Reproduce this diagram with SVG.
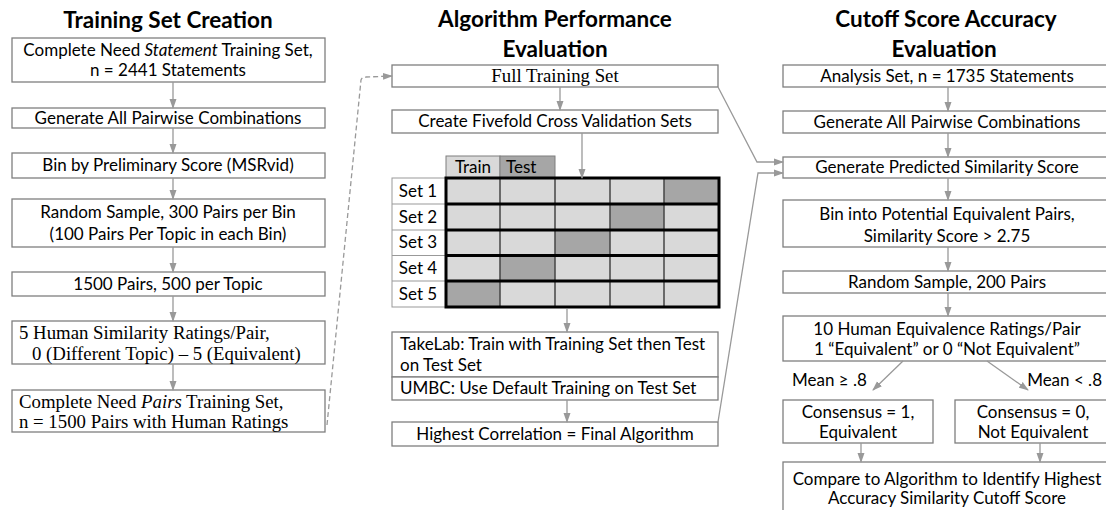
<svg xmlns="http://www.w3.org/2000/svg" width="1106" height="510" viewBox="0 0 1106 510">
<style>
.bg{fill:#fff}
.box{fill:#fff;stroke:#7f7f7f;stroke-width:1.3}
.t{font-family:Lato,"Liberation Sans",sans-serif;font-size:17px;fill:#000}
.s{font-family:"Liberation Serif","DejaVu Serif",serif;font-size:18.8px;fill:#000}
.h{font-family:Lato,"Liberation Sans",sans-serif;font-size:22.5px;font-weight:bold;fill:#000;text-anchor:middle}
.c{text-anchor:middle}
.ar{fill:none;stroke:#999;stroke-width:1.3;marker-end:url(#ah)}
.dash{fill:none;stroke:#999;stroke-width:1.3;stroke-dasharray:5,3;marker-end:url(#ah)}
.lt{fill:#d9d9d9}
.dk{fill:#a6a6a6}
.lbl{fill:#fff;stroke:#999;stroke-width:1}
</style>
<defs>
<marker id="ah" markerWidth="10" markerHeight="8" refX="9" refY="4" orient="auto" markerUnits="userSpaceOnUse">
<path d="M0,0.5 L10,4 L0,7.5 z" fill="#999"/>
</marker>
</defs>
<rect class="bg" x="0" y="0" width="1106" height="510"/>

<!-- Titles -->
<g id="titles">
<text class="h" x="168" y="28">Training Set Creation</text>
<text class="h" x="555" y="27">Algorithm Performance</text>
<text class="h" x="555" y="57">Evaluation</text>
<text class="h" x="946" y="27">Cutoff Score Accuracy</text>
<text class="h" x="944" y="57">Evaluation</text>
</g>

<!-- Left column -->
<g id="l1"><rect class="box" x="12" y="38" width="313" height="44"/>
<text class="t c" x="168" y="56">Complete Need <tspan font-style="italic">Statement</tspan> Training Set,</text>
<text class="t c" x="168" y="76">n = 2441 Statements</text></g>
<g id="l2"><rect class="box" x="12" y="108" width="313" height="20"/>
<text class="t c" x="168" y="124">Generate All Pairwise Combinations</text></g>
<g id="l3"><rect class="box" x="12" y="153" width="313" height="25"/>
<text class="t c" x="168" y="171">Bin by Preliminary Score (MSRvid)</text></g>
<g id="l4"><rect class="box" x="12" y="199" width="313" height="48"/>
<text class="t c" x="168" y="218">Random Sample, 300 Pairs per Bin</text>
<text class="t c" x="168" y="240">(100 Pairs Per Topic in each Bin)</text></g>
<g id="l5"><rect class="box" x="12" y="272" width="313" height="24"/>
<text class="t c" x="168" y="290">1500 Pairs, 500 per Topic</text></g>
<g id="l6"><rect class="box" x="12" y="321" width="313" height="43"/>
<text class="s" x="19" y="339">5 Human Similarity Ratings/Pair,</text>
<text class="s" x="32" y="360">0 (Different Topic) – 5 (Equivalent)</text></g>
<g id="l7"><rect class="box" x="12" y="390" width="313" height="42"/>
<text class="s" x="19" y="408">Complete Need <tspan font-style="italic">Pairs</tspan> Training Set,</text>
<text class="s" x="19" y="428">n = 1500 Pairs with Human Ratings</text></g>

<!-- Middle column -->
<g id="m1"><rect class="box" x="392" y="65" width="326" height="22"/>
<text class="s c" x="555" y="82">Full Training Set</text></g>
<g id="m2"><rect class="box" x="392" y="110" width="326" height="23"/>
<text class="t c" x="555" y="127">Create Fivefold Cross Validation Sets</text></g>

<g id="grid">
<rect class="lt" x="446" y="156" width="54" height="22" stroke="#7f7f7f" stroke-width="1"/>
<rect class="dk" x="500" y="156" width="55" height="22" stroke="#7f7f7f" stroke-width="1"/>
<text class="t c" x="473" y="173">Train</text>
<text class="t" x="506" y="173">Test</text>
<rect class="lbl" x="392" y="178" width="54" height="129"/>
<line x1="392" y1="204" x2="446" y2="204" stroke="#999" stroke-width="1"/>
<line x1="392" y1="230" x2="446" y2="230" stroke="#999" stroke-width="1"/>
<line x1="392" y1="255.5" x2="446" y2="255.5" stroke="#999" stroke-width="1"/>
<line x1="392" y1="281" x2="446" y2="281" stroke="#999" stroke-width="1"/>
<text class="t c" x="418" y="197">Set 1</text>
<text class="t c" x="418" y="223">Set 2</text>
<text class="t c" x="418" y="248">Set 3</text>
<text class="t c" x="418" y="274">Set 4</text>
<text class="t c" x="418" y="300">Set 5</text>
<rect class="lt" x="446" y="178" width="273" height="129"/>
<rect class="dk" x="664" y="178" width="55" height="26"/>
<rect class="dk" x="610" y="204" width="54" height="26"/>
<rect class="dk" x="555" y="230" width="55" height="25.5"/>
<rect class="dk" x="500" y="255.5" width="55" height="25.5"/>
<rect class="dk" x="446" y="281" width="54" height="26"/>
<g stroke="#444" stroke-width="1.5">
<line x1="500" y1="178" x2="500" y2="307"/>
<line x1="555" y1="178" x2="555" y2="307"/>
<line x1="610" y1="178" x2="610" y2="307"/>
<line x1="664" y1="178" x2="664" y2="307"/>
</g>
<g stroke="#000" stroke-width="3">
<line x1="446" y1="204" x2="719" y2="204"/>
<line x1="446" y1="230" x2="719" y2="230"/>
<line x1="446" y1="255.5" x2="719" y2="255.5"/>
<line x1="446" y1="281" x2="719" y2="281"/>
</g>
<rect x="446" y="178" width="273" height="129" fill="none" stroke="#000" stroke-width="3"/>
</g>

<g id="m3"><rect class="box" x="392" y="332" width="326" height="45"/>
<text class="t" x="400" y="350">TakeLab: Train with Training Set then Test</text>
<text class="t" x="400" y="371">on Test Set</text></g>
<g id="m4"><rect class="box" x="392" y="377" width="326" height="23"/>
<text class="t" x="400" y="394">UMBC: Use Default Training on Test Set</text></g>
<g id="m5"><rect class="box" x="392" y="422" width="326" height="24"/>
<text class="t c" x="555" y="440">Highest Correlation = Final Algorithm</text></g>

<!-- Right column -->
<g id="r1"><rect class="box" x="783" y="65" width="330" height="22"/>
<text class="t c" x="947" y="82">Analysis Set, n = 1735 Statements</text></g>
<g id="r2"><rect class="box" x="783" y="111" width="330" height="22"/>
<text class="t c" x="947" y="128">Generate All Pairwise Combinations</text></g>
<g id="r3"><rect class="box" x="783" y="157" width="330" height="21"/>
<text class="t c" x="947" y="173">Generate Predicted Similarity Score</text></g>
<g id="r4"><rect class="box" x="783" y="200" width="330" height="47"/>
<text class="t c" x="947" y="220">Bin into Potential Equivalent Pairs,</text>
<text class="t c" x="947" y="242">Similarity Score &gt; 2.75</text></g>
<g id="r5"><rect class="box" x="783" y="271" width="330" height="22"/>
<text class="t c" x="947" y="288">Random Sample, 200 Pairs</text></g>
<g id="r6"><rect class="box" x="783" y="316" width="330" height="45"/>
<text class="t c" x="947" y="335">10 Human Equivalence Ratings/Pair</text>
<text class="t c" x="947" y="355">1 “Equivalent” or 0 “Not Equivalent”</text></g>
<g id="r7"><rect class="box" x="783" y="400" width="150" height="43"/>
<text class="t c" x="858" y="418">Consensus = 1,</text>
<text class="t c" x="858" y="438">Equivalent</text></g>
<g id="r8"><rect class="box" x="955" y="400" width="160" height="43"/>
<text class="t c" x="1033" y="418">Consensus = 0,</text>
<text class="t c" x="1033" y="438">Not Equivalent</text></g>
<g id="r9"><rect class="box" x="783" y="462" width="330" height="60"/>
<text class="t c" x="947" y="485">Compare to Algorithm to Identify Highest</text>
<text class="t c" x="947" y="504">Accuracy Similarity Cutoff Score</text></g>

<!-- Connectors -->
<g id="connectors">
<line class="ar" x1="173" y1="82" x2="173" y2="108"/>
<line class="ar" x1="173" y1="128" x2="173" y2="153"/>
<line class="ar" x1="173" y1="178" x2="173" y2="199"/>
<line class="ar" x1="173" y1="247" x2="173" y2="272"/>
<line class="ar" x1="173" y1="296" x2="173" y2="321"/>
<line class="ar" x1="173" y1="364" x2="173" y2="390"/>
<path class="dash" d="M327,425 L361,80 Q362,77 366,77 L392,76"/>
<line class="ar" x1="560" y1="87" x2="560" y2="110"/>
<line class="ar" x1="582" y1="133" x2="582" y2="178"/>
<line class="ar" x1="567" y1="309" x2="567" y2="332"/>
<line class="ar" x1="567" y1="400" x2="567" y2="422"/>
<path class="ar" d="M718,87 L757,162 L783,162"/>
<path class="ar" d="M718,422 L758,173 L783,173"/>
<line class="ar" x1="948" y1="87" x2="948" y2="111"/>
<line class="ar" x1="948" y1="133" x2="948" y2="157"/>
<line class="ar" x1="948" y1="178" x2="948" y2="200"/>
<line class="ar" x1="948" y1="247" x2="948" y2="271"/>
<line class="ar" x1="948" y1="293" x2="948" y2="316"/>
<line class="ar" x1="903" y1="361" x2="873" y2="390"/>
<line class="ar" x1="987" y1="361" x2="1028" y2="390"/>
<line class="ar" x1="861" y1="443" x2="861" y2="462"/>
<line class="ar" x1="1040" y1="443" x2="1040" y2="462"/>
</g>
<g id="labels">
<text class="t" x="792" y="386">Mean ≥ .8</text>
<text class="t" x="1102" y="386" text-anchor="end">Mean &lt; .8</text>
</g>
</svg>
